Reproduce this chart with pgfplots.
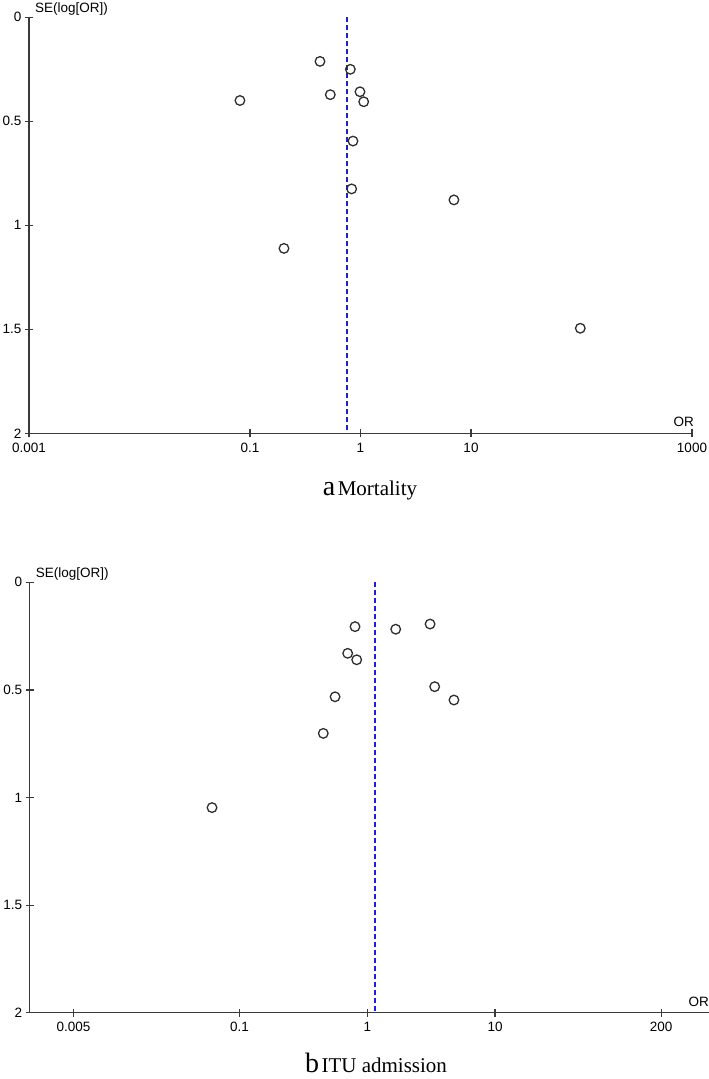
\documentclass[border=0pt]{standalone}
\usepackage{pgfplots}
\pgfplotsset{compat=1.18}
\usepackage{fontspec}
\setmainfont{Liberation Sans}
\newfontfamily\capfont{Liberation Serif}
\definecolor{axgray}{HTML}{3A3A3A}
\definecolor{ptgray}{HTML}{2E2E2E}
\definecolor{dashblue}{HTML}{1F1FD0}

\pgfplotstableread{
or se
0.0811 0.400
0.430 0.212
0.809 0.250
0.533 0.372
0.989 0.358
1.069 0.406
0.855 0.595
0.832 0.825
0.203 1.111
7.01 0.878
97.5 1.495
}\mortality

\pgfplotstableread{
or se
0.801 0.206
1.669 0.218
3.10 0.194
0.702 0.330
0.826 0.360
0.559 0.532
3.37 0.485
4.77 0.547
0.452 0.702
0.0608 1.047
}\itu

\begin{document}
\begin{tikzpicture}
\useasboundingbox (0pt,0pt) rectangle (709pt,1079pt);

% ---- a Mortality
\begin{axis}[
  scale only axis,
  xmode=log,
  y dir=reverse,
  ymin=0, ymax=2,
  axis x line*=bottom,
  axis y line*=left,
  axis line style={draw=axgray, line width=1.4pt, -},
  tick style={draw=axgray, line width=1.2pt},
  tick align=center,
  major tick length=8pt,
  minor tick num=0,
  ytick={0,0.5,1,1.5,2},
  yticklabels={0,0.5,1,1.5,2},
  ticklabel style={font=\fontsize{13.5}{15}\selectfont, text=black},
  xticklabel style={yshift=-2pt},
  clip=false,
  at={(29pt,645.7pt)}, anchor=south west,
  width=663pt, height=416pt,
  xmin=0.001, xmax=1000,
  xtick={0.001,0.1,1,10,1000},
  xticklabels={0.001,0.1,1,10,1000},
]
\addplot[draw=dashblue, color=dashblue, line width=1.8pt, dash pattern=on 5pt off 3pt] coordinates {(0.757,0) (0.757,2)};
\addplot[only marks, mark=o, mark size=4.8pt, mark options={draw=ptgray, line width=1.3pt}] table[x=or,y=se] {\mortality};
\node[anchor=south west, font=\fontsize{13.5}{15}\selectfont, inner sep=0pt, xshift=6pt, yshift=2pt] at (axis cs:0.001,0) {SE(log[OR])};
\node[anchor=south east, font=\fontsize{13.5}{15}\selectfont, inner sep=0pt, xshift=2pt, yshift=6pt] at (axis cs:1000,2) {OR};
\end{axis}
\node[anchor=base, inner sep=0pt] at (370pt,583pt) {\capfont{\fontsize{28}{30}\selectfont a} {\fontsize{21}{23}\selectfont\capfont Mortality}};

% ---- b ITU admission
\begin{axis}[
  scale only axis,
  xmode=log,
  y dir=reverse,
  ymin=0, ymax=2,
  axis x line*=bottom,
  axis y line*=left,
  axis line style={draw=axgray, line width=1.4pt, -},
  tick style={draw=axgray, line width=1.2pt},
  tick align=center,
  major tick length=8pt,
  minor tick num=0,
  ytick={0,0.5,1,1.5,2},
  yticklabels={0,0.5,1,1.5,2},
  ticklabel style={font=\fontsize{13.5}{15}\selectfont, text=black},
  xticklabel style={yshift=-2pt},
  clip=false,
  at={(29.7pt,66.3pt)}, anchor=south west,
  width=679.3pt, height=430.4pt,
  xmin=0.00227, xmax=474,
  xtick={0.005,0.1,1,10,200},
  xticklabels={0.005,0.1,1,10,200},
]
\addplot[draw=dashblue, color=dashblue, line width=1.8pt, dash pattern=on 5pt off 3pt] coordinates {(1.15,0) (1.15,2)};
\addplot[only marks, mark=o, mark size=4.8pt, mark options={draw=ptgray, line width=1.3pt}] table[x=or,y=se] {\itu};
\node[anchor=south west, font=\fontsize{13.5}{15}\selectfont, inner sep=0pt, xshift=6pt, yshift=2pt] at (axis cs:0.00227,0) {SE(log[OR])};
\node[anchor=south east, font=\fontsize{13.5}{15}\selectfont, inner sep=0pt, yshift=6pt] at (axis cs:474,2) {OR};
\end{axis}
\node[anchor=base, inner sep=0pt] at (376pt,6pt) {\capfont{\fontsize{28}{30}\selectfont b} {\fontsize{21}{23}\selectfont\capfont ITU admission}};
\end{tikzpicture}
\end{document}
